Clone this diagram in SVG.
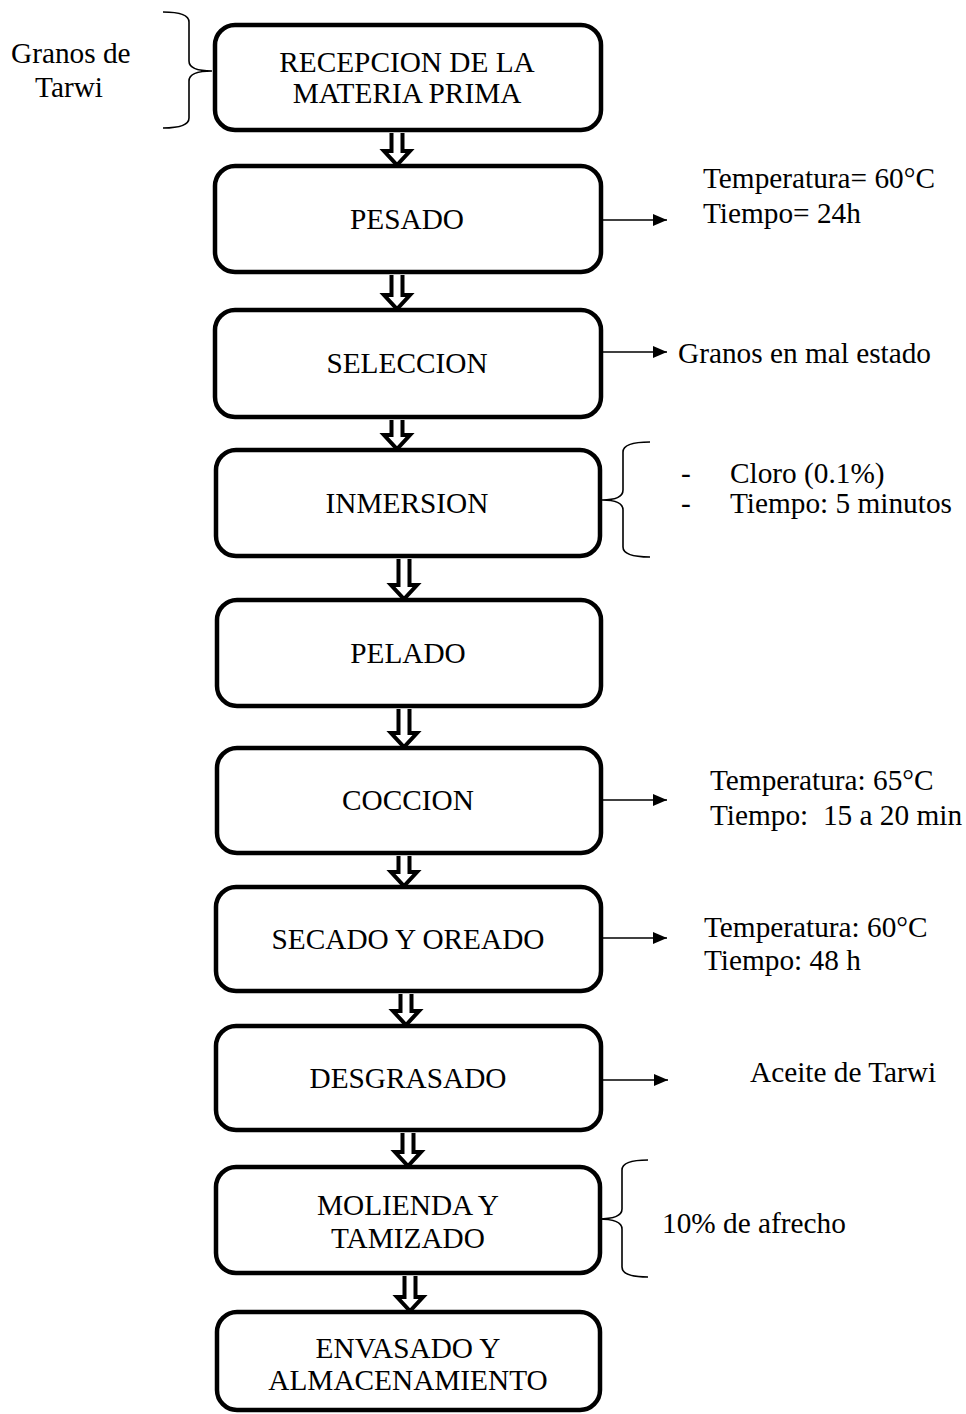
<svg xmlns="http://www.w3.org/2000/svg" width="966" height="1414" viewBox="0 0 966 1414">
<style>
.box{fill:#fff;stroke:#000;stroke-width:4.5}
.t{font-family:"Liberation Serif","Times New Roman",serif;font-size:29.3px;fill:#000}
.c{text-anchor:middle}
.ha{fill:#fff;stroke:#000;stroke-width:4;stroke-linejoin:miter}
.ln{stroke:#000;stroke-width:1.6;fill:none}
.br{stroke:#000;stroke-width:1.6;fill:none}
</style>
<defs>
<marker id="ah" markerUnits="userSpaceOnUse" markerWidth="16" markerHeight="12" refX="14" refY="6" orient="auto">
<path d="M0,0 L14,6 L0,12 Z" fill="#000"/>
</marker>
</defs>
<rect width="966" height="1414" fill="#fff"/>

<g id="n1"><rect class="box" x="215" y="25" width="386" height="105" rx="20"/><text class="t c" x="407" y="72">RECEPCION DE LA</text><text class="t c" x="407" y="103">MATERIA PRIMA</text></g>
<g id="n2"><rect class="box" x="215" y="166" width="386" height="106" rx="20"/><text class="t c" x="407" y="229">PESADO</text></g>
<g id="n3"><rect class="box" x="215" y="310" width="386" height="107" rx="20"/><text class="t c" x="407" y="373">SELECCION</text></g>
<g id="n4"><rect class="box" x="216" y="450" width="384" height="106" rx="20"/><text class="t c" x="407" y="513">INMERSION</text></g>
<g id="n5"><rect class="box" x="217" y="600" width="384" height="106" rx="20"/><text class="t c" x="408" y="663">PELADO</text></g>
<g id="n6"><rect class="box" x="217" y="748" width="384" height="105" rx="20"/><text class="t c" x="408" y="810">COCCION</text></g>
<g id="n7"><rect class="box" x="216" y="887" width="385" height="104" rx="20"/><text class="t c" x="408" y="949">SECADO Y OREADO</text></g>
<g id="n8"><rect class="box" x="216" y="1026" width="385" height="104" rx="20"/><text class="t c" x="408" y="1088">DESGRASADO</text></g>
<g id="n9"><rect class="box" x="216" y="1167" width="384" height="106" rx="20"/><text class="t c" x="408" y="1215">MOLIENDA Y</text><text class="t c" x="408" y="1248">TAMIZADO</text></g>
<g id="n10"><rect class="box" x="217" y="1312" width="383" height="98" rx="20"/><text class="t c" x="408" y="1358">ENVASADO Y</text><text class="t c" x="408" y="1390">ALMACENAMIENTO</text></g>

<g id="connectors">
<path class="ha" d="M391.5,133 V151 H384 L397,165 L410,151 H402.5 V133"/>
<path class="ha" d="M391.5,275 V295 H384 L397,309 L410,295 H402.5 V275"/>
<path class="ha" d="M391.5,420 V435 H384 L397,449 L410,435 H402.5 V420"/>
<path class="ha" d="M398.5,559 V585 H391 L404,599 L417,585 H409.5 V559"/>
<path class="ha" d="M398.5,709 V733 H391 L404,747 L417,733 H409.5 V709"/>
<path class="ha" d="M398.5,856 V872 H391 L404,886 L417,872 H409.5 V856"/>
<path class="ha" d="M400.5,994 V1011 H393 L406,1025 L419,1011 H411.5 V994"/>
<path class="ha" d="M402.5,1133 V1152 H395 L408,1166 L421,1152 H413.5 V1133"/>
<path class="ha" d="M404.5,1276 V1297 H397 L410,1311 L423,1297 H415.5 V1276"/>

<line class="ln" x1="603" y1="220" x2="667" y2="220" marker-end="url(#ah)"/>
<line class="ln" x1="603" y1="352" x2="667" y2="352" marker-end="url(#ah)"/>
<line class="ln" x1="603" y1="800" x2="667" y2="800" marker-end="url(#ah)"/>
<line class="ln" x1="603" y1="938" x2="667" y2="938" marker-end="url(#ah)"/>
<line class="ln" x1="603" y1="1080" x2="668" y2="1080" marker-end="url(#ah)"/>

<path class="br" d="M163,12 Q189,12 189,22 V61 Q189,71 212,71 Q189,71 189,81 V118 Q189,128 163,128"/>
<path class="br" d="M650,442 Q623,442 623,452 V490 Q623,500 602,500 Q623,500 623,510 V547 Q623,557 650,557"/>
<path class="br" d="M648,1160 Q622,1160 622,1170 V1209 Q622,1219 598,1219 Q622,1219 622,1229 V1267 Q622,1277 648,1277"/>
</g>

<g id="labels">
<text class="t" x="11" y="63">Granos de</text>
<text class="t c" x="69" y="97">Tarwi</text>
<text class="t" x="703" y="188">Temperatura= 60°C</text>
<text class="t" x="703" y="223">Tiempo= 24h</text>
<text class="t" x="678" y="363">Granos en mal estado</text>
<text class="t" x="681" y="483">-</text>
<text class="t" x="681" y="513">-</text>
<text class="t" x="730" y="483">Cloro (0.1%)</text>
<text class="t" x="730" y="513">Tiempo: 5 minutos</text>
<text class="t" x="710" y="790">Temperatura: 65°C</text>
<text class="t" x="710" y="825" xml:space="preserve">Tiempo:  15 a 20 min</text>
<text class="t" x="704" y="937">Temperatura: 60°C</text>
<text class="t" x="704" y="970">Tiempo: 48 h</text>
<text class="t" x="750" y="1082">Aceite de Tarwi</text>
<text class="t" x="662" y="1233">10% de afrecho</text>
</g>
</svg>
